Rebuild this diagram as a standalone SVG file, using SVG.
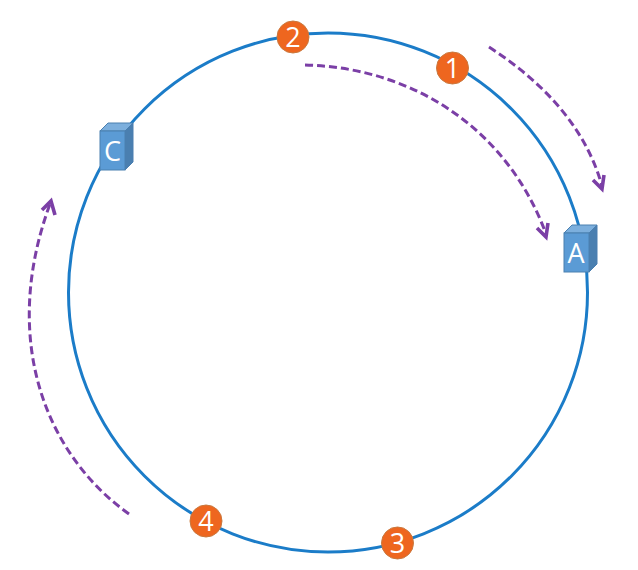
<svg xmlns="http://www.w3.org/2000/svg" width="638" height="570" viewBox="0 0 638 570">
<style>
.ring{fill:none;stroke:#1b7cc8;stroke-width:3}
.arc{fill:none;stroke:#7b3fa6;stroke-width:3;stroke-dasharray:8 4}
.head{fill:none;stroke:#7b3fa6;stroke-width:3.6}
.dot{fill:#ee661f;stroke:#c9793f;stroke-width:1}
.front{fill:#5b9bd5;stroke:#4a80b0;stroke-width:1}
.top{fill:#7cafdd;stroke:#4a80b0;stroke-width:1}
.side{fill:#4a7fb0;stroke:#4a7fb0;stroke-width:1}
.n{font-family:"Open Sans","Liberation Sans",sans-serif;fill:#fff;text-anchor:middle}
</style>
<rect width="638" height="570" fill="#fff"/>
<g id="ring"><circle class="ring" cx="328" cy="292.500" r="259.500"/></g>
<g id="connectors">
<path class="arc" d="M489 47C540 80 585 125 602 186"/>
<path class="head" d="M593 180L602 189L604 175"/>
<path class="arc" d="M305 65C420 68 510 135 546 234"/>
<path class="head" d="M537 228L546 237L548 223"/>
<path class="arc" d="M129 514C46 455 0 340 50 204"/>
<path class="head" d="M42 210L51 201L55 215"/>
</g>
<g id="node-A">
<path class="top" d="M564 233L572 225H597L589 233Z"/>
<path class="side" d="M589 233L597 225V264L589 272Z"/>
<rect class="front" x="564" y="233" width="25" height="39"/>
<text class="n" x="576" y="263" font-size="27">A</text>
</g>
<g id="node-C">
<path class="top" d="M100 131L108 123H133L125 131Z"/>
<path class="side" d="M125 131L133 123V162L125 170Z"/>
<rect class="front" x="100" y="131" width="25" height="39"/>
<text class="n" x="112.500" y="161" font-size="27">C</text>
</g>
<g id="node-1"><circle class="dot" cx="452.500" cy="68" r="16"/><text class="n" x="452.500" y="78" font-size="27">1</text></g>
<g id="node-2"><circle class="dot" cx="293" cy="37" r="16"/><text class="n" x="293" y="47" font-size="27">2</text></g>
<g id="node-3"><circle class="dot" cx="397.500" cy="543" r="16"/><text class="n" x="397.500" y="553" font-size="27">3</text></g>
<g id="node-4"><circle class="dot" cx="206" cy="521" r="16"/><text class="n" x="206" y="531" font-size="27">4</text></g>
</svg>
